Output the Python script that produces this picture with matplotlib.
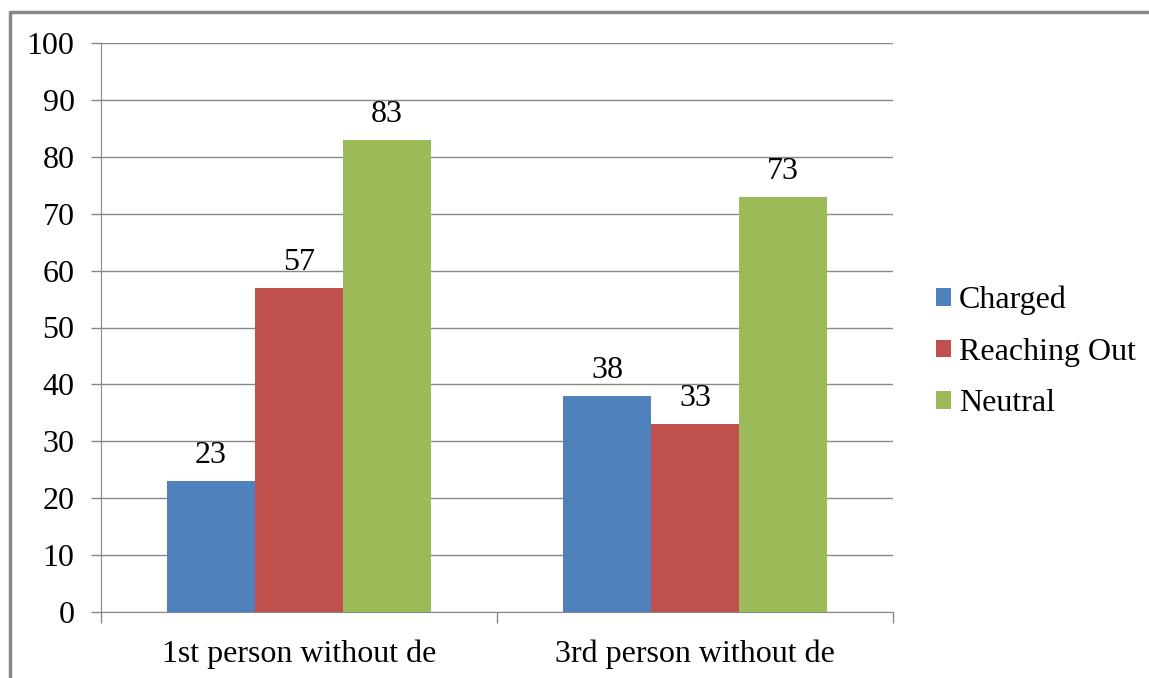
import numpy as np
import matplotlib.pyplot as plt
from matplotlib.lines import Line2D

categories = ['1st person without de', '3rd person without de']
series = ['Charged', 'Reaching Out', 'Neutral']
charged = [23, 38]
reaching_out = [57, 33]
neutral = [83, 73]
colors = ['#4f81bd', '#c0504d', '#9bbb59']
yticks = list(range(0, 101, 10))

plt.rcParams['font.family'] = ['Liberation Serif', 'DejaVu Serif']
fs = 23

fig = plt.figure(figsize=(11.49, 6.78), dpi=100)
ax = fig.add_axes([101 / 1149, 1 - 612 / 678, 792 / 1149, 569 / 678])

x = np.arange(len(categories))
w = 0.222
for i, (name, vals) in enumerate(zip(series, [charged, reaching_out, neutral])):
    pos = x + (i - 1) * w
    bars = ax.bar(pos, vals, width=w, color=colors[i], label=name, zorder=3)
    for b, v in zip(bars, vals):
        ax.annotate(str(v), (b.get_x() + b.get_width() / 2, v), xytext=(0, 8),
                    textcoords='offset points', ha='center', va='bottom', fontsize=fs)

ax.set_xlim(-0.5, len(categories) - 0.5)
ax.set_ylim(0, 100)
ax.set_yticks(yticks)
ax.tick_params(axis='y', labelsize=fs, length=7, width=1, color='#888888', pad=12)
ax.set_xticks(x)
ax.set_xticklabels(categories)
ax.tick_params(axis='x', which='major', labelsize=fs, length=0, pad=20)
ax.set_xticks([-0.5, 0.5, 1.5], minor=True)
ax.tick_params(axis='x', which='minor', length=8, width=1, color='#888888')
ax.grid(axis='y', color='#888888', linewidth=1, zorder=0)
for s in ['top', 'right']:
    ax.spines[s].set_visible(False)
for s in ['left', 'bottom']:
    ax.spines[s].set_color('#888888')

ax.legend(loc='center left', bbox_to_anchor=((936 - 101) / 792, 0.457), frameon=False,
          fontsize=fs, handlelength=0.47, handleheight=0.47, handletextpad=0.25,
          labelspacing=0.7, borderpad=0, borderaxespad=0)

# outer frame (top and left edges visible)
fig.add_artist(Line2D([10 / 1149, 10 / 1149, 1], [0, 1 - 12 / 678, 1 - 12 / 678],
                      color='#888888', linewidth=2.5))

fig.savefig('out.png', dpi=100)
